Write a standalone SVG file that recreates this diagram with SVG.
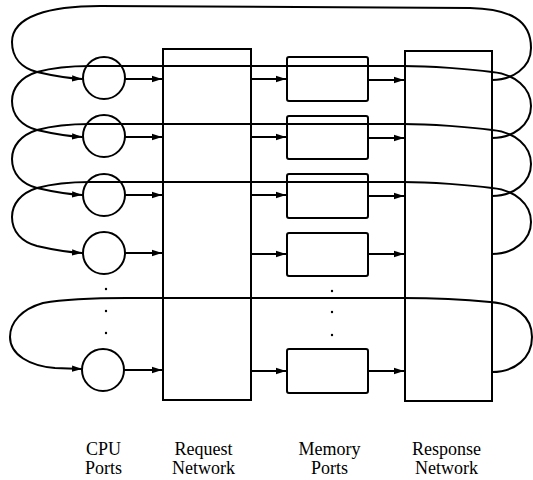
<svg xmlns="http://www.w3.org/2000/svg" width="533" height="480" viewBox="0 0 533 480">
<style>
.ln{fill:none;stroke:#000;stroke-width:2;stroke-linecap:round;stroke-linejoin:round}
.bx{fill:none;stroke:#000;stroke-width:2}
.dot{fill:#000}
</style>
<defs>
<marker id="ah" markerWidth="11" markerHeight="8" refX="10" refY="4" orient="auto" markerUnits="userSpaceOnUse">
<path d="M0,0.8 L10,4 L0,7.2 Z" fill="#000"/>
</marker>
</defs>
<rect width="533" height="480" fill="#fff"/>

<g id="request-network"><rect class="bx" x="163" y="49" width="88" height="351"/></g>
<g id="response-network"><rect class="bx" x="405" y="51" width="87" height="350"/></g>

<g id="cpu1"><circle class="bx" cx="104" cy="78" r="21"/></g>
<g id="cpu2"><circle class="bx" cx="104" cy="136" r="21"/></g>
<g id="cpu3"><circle class="bx" cx="104" cy="195" r="21"/></g>
<g id="cpu4"><circle class="bx" cx="104" cy="253" r="21"/></g>
<g id="cpu5"><circle class="bx" cx="103" cy="370" r="21"/></g>

<g id="mem1"><rect class="bx" x="287" y="57" width="81" height="44" rx="2"/></g>
<g id="mem2"><rect class="bx" x="287" y="116" width="81" height="43" rx="2"/></g>
<g id="mem3"><rect class="bx" x="287" y="174" width="81" height="44" rx="2"/></g>
<g id="mem4"><rect class="bx" x="287" y="233" width="81" height="43" rx="2"/></g>
<g id="mem5"><rect class="bx" x="287" y="349" width="81" height="44" rx="2"/></g>

<g id="dots">
<circle class="dot" cx="106" cy="289" r="1.2"/>
<circle class="dot" cx="106" cy="311" r="1.2"/>
<circle class="dot" cx="106" cy="333" r="1.2"/>
<circle class="dot" cx="332" cy="291" r="1.2"/>
<circle class="dot" cx="332" cy="312" r="1.2"/>
<circle class="dot" cx="332" cy="335" r="1.2"/>
</g>

<g id="connectors">
<path class="ln" d="M125,79 L162,79" marker-end="url(#ah)"/>
<path class="ln" d="M251,79 L286,79" marker-end="url(#ah)"/>
<path class="ln" d="M368,80 L404,80" marker-end="url(#ah)"/>
<path class="ln" d="M125,137 L162,137" marker-end="url(#ah)"/>
<path class="ln" d="M251,137 L286,137" marker-end="url(#ah)"/>
<path class="ln" d="M368,138 L404,138" marker-end="url(#ah)"/>
<path class="ln" d="M125,195 L162,195" marker-end="url(#ah)"/>
<path class="ln" d="M251,195 L286,195" marker-end="url(#ah)"/>
<path class="ln" d="M368,196 L404,196" marker-end="url(#ah)"/>
<path class="ln" d="M125,253 L162,253" marker-end="url(#ah)"/>
<path class="ln" d="M251,254 L286,254" marker-end="url(#ah)"/>
<path class="ln" d="M368,254 L404,254" marker-end="url(#ah)"/>
<path class="ln" d="M124,370 L162,370" marker-end="url(#ah)"/>
<path class="ln" d="M251,371 L286,371" marker-end="url(#ah)"/>
<path class="ln" d="M368,371 L404,371" marker-end="url(#ah)"/>

<path class="ln" d="M492,80 C512,80 531,68 531,48 C531,20 510,9 470,8 L100,6 C50,6 12,16 12,42 C12,58 22,68 37,72 C50,75 65,78 82,79" marker-end="url(#ah)"/>
<path class="ln" d="M492,138 C513,138 531,125 531,106 C531,88 515,74 492,72 C470,69 430,66 403,66 L90,66 C65,66 48,69 37,72 C21,77 12,88 12,101 C12,116 22,126 37,130 C50,133 65,136 82,137" marker-end="url(#ah)"/>
<path class="ln" d="M492,196 C513,196 531,183 531,164 C531,146 515,132 492,130 C470,127 430,124 403,124 L90,124 C65,124 48,127 37,130 C21,135 12,146 12,159 C12,174 22,184 37,188 C50,191 65,194 82,195" marker-end="url(#ah)"/>
<path class="ln" d="M492,254 C513,254 531,241 531,222 C531,204 515,190 492,188 C470,185 430,182 403,182 L90,182 C65,182 48,185 37,188 C21,193 12,204 12,217 C12,232 22,242 37,246 C50,249 65,252 82,253" marker-end="url(#ah)"/>
<path class="ln" d="M492,372 C515,372 532,358 532,337 C532,316 515,304 490,302 C470,300 440,298 403,298 L127,298 C90,298 60,300 43,303 C22,309 10,322 10,337 C10,355 30,366 55,368 L82,369" marker-end="url(#ah)"/>
</g>

<g id="labels" font-family="'Liberation Serif', 'Times New Roman', serif" font-size="18" fill="#000" text-anchor="middle">
<text x="103.5" y="455">CPU</text>
<text x="103.5" y="474">Ports</text>
<text x="203.5" y="455">Request</text>
<text x="203.5" y="474">Network</text>
<text x="329.5" y="455">Memory</text>
<text x="329.5" y="474">Ports</text>
<text x="446.5" y="455">Response</text>
<text x="446.5" y="474">Network</text>
</g>
</svg>
